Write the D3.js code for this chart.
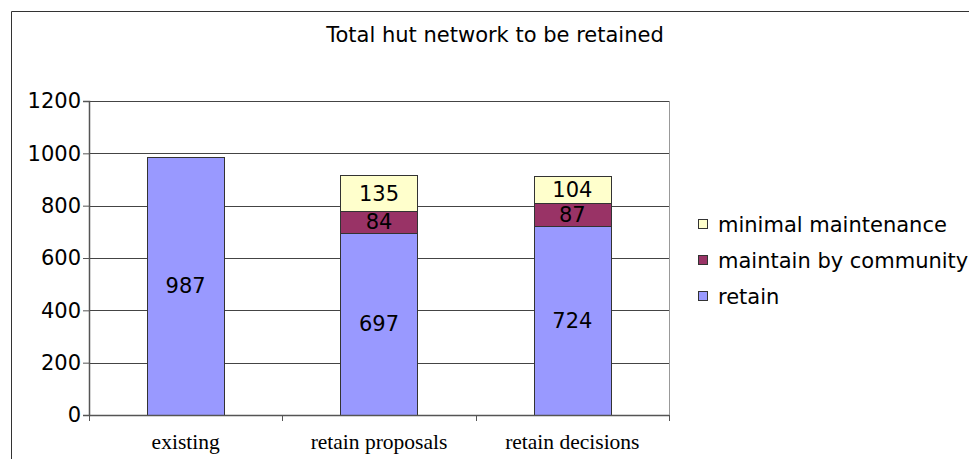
<!DOCTYPE html>
<html>
<head>
<meta charset="utf-8">
<script src="https://cdn.jsdelivr.net/npm/d3@7"></script>
<style>
  body { margin: 0; background: #fff; }
  svg { display: block; }
</style>
</head>
<body>
<svg id="chart"></svg>
<script>
/* Data */
const categories = ["existing", "retain proposals", "retain decisions"];
const retainValues = [987, 697, 724];
const communityValues = [0, 84, 87];
const minimalValues = [0, 135, 104];
const yTicks = [0, 200, 400, 600, 800, 1000, 1200];

const seriesNames = ["retain", "maintain by community", "minimal maintenance"];
const seriesColors = ["#9999FF", "#993366", "#FFFFCC"];

/* Build rows for the stack */
const rows = categories.map((c, i) => ({
  category: c,
  "retain": retainValues[i],
  "maintain by community": communityValues[i],
  "minimal maintenance": minimalValues[i]
}));

const stacked = d3.stack().keys(seriesNames)(rows);

/* Dimensions */
const W = 969, H = 459;
const plot = { left: 89, right: 669, top: 101, bottom: 415 };
const sans = "'DejaVu Sans', Verdana, sans-serif";

const svg = d3.select("#chart").attr("width", W).attr("height", H);

/* Outer frame (runs off the right and bottom edges) */
svg.append("path")
    .attr("d", `M11.5,${H + 2} V11.5 H${W + 2}`)
    .attr("fill", "none")
    .attr("stroke", "#333")
    .attr("stroke-width", 1);

/* Title */
svg.append("text")
    .attr("x", 495)
    .attr("y", 42)
    .attr("text-anchor", "middle")
    .style("font-family", sans)
    .style("font-size", "21px")
    .text("Total hut network to be retained");

/* Scales */
const x = d3.scaleBand()
    .domain(categories)
    .range([plot.left, plot.right])
    .paddingInner(0.6)
    .paddingOuter(0.3);

const y = d3.scaleLinear()
    .domain([0, 1200])
    .range([plot.bottom, plot.top]);

/* Gridlines */
svg.append("g")
  .selectAll("line")
  .data(yTicks.filter(t => t > 0))
  .join("line")
    .attr("x1", plot.left)
    .attr("x2", plot.right)
    .attr("y1", d => Math.round(y(d)) + 0.5)
    .attr("y2", d => Math.round(y(d)) + 0.5)
    .attr("stroke", "#444")
    .attr("stroke-width", 1);

/* Right border of plot area */
svg.append("line")
    .attr("x1", plot.right + 0.5).attr("x2", plot.right + 0.5)
    .attr("y1", plot.top).attr("y2", plot.bottom)
    .attr("stroke", "#999");

/* Bars */
const layers = svg.append("g")
  .selectAll("g")
  .data(stacked)
  .join("g")
    .attr("fill", (d, i) => seriesColors[i]);

layers.selectAll("rect")
  .data(d => d.filter(s => s[1] - s[0] > 0))
  .join("rect")
    .attr("x", d => Math.round(x(d.data.category)) + 0.5)
    .attr("y", d => Math.round(y(d[1])) + 0.5)
    .attr("width", Math.round(x.bandwidth()))
    .attr("height", d => Math.round(y(d[0])) - Math.round(y(d[1])))
    .attr("stroke", "#333")
    .attr("stroke-width", 1);

/* Value labels */
layers.selectAll("text")
  .data(d => d.filter(s => s[1] - s[0] > 0))
  .join("text")
    .attr("x", d => x(d.data.category) + x.bandwidth() / 2)
    .attr("y", d => y((d[0] + d[1]) / 2))
    .attr("dy", "0.36em")
    .attr("text-anchor", "middle")
    .attr("fill", "#000")
    .style("font-family", sans)
    .style("font-size", "21px")
    .text(d => d[1] - d[0]);

/* Y axis */
const yAxis = svg.append("g")
    .attr("transform", `translate(${plot.left},0)`)
    .call(d3.axisLeft(y).tickValues(yTicks).tickFormat(d3.format("d")).tickSize(6).tickPadding(2));
yAxis.select(".domain").attr("stroke", "#555").attr("stroke-width", 1.5);
yAxis.selectAll(".tick line").attr("stroke", "#555");
yAxis.selectAll(".tick text")
    .style("font-family", sans)
    .style("font-size", "21px")
    .attr("fill", "#000");

/* X axis: ticks at category boundaries */
const boundaries = categories.map(c => x(c) - x.step() * x.paddingInner() / 2)
    .concat([plot.right]);
boundaries[0] = plot.left;

const xAxis = svg.append("g");
xAxis.append("line")
    .attr("x1", plot.left).attr("x2", plot.right)
    .attr("y1", plot.bottom + 0.5).attr("y2", plot.bottom + 0.5)
    .attr("stroke", "#555").attr("stroke-width", 1.5);
xAxis.selectAll(".xtick")
  .data(boundaries)
  .join("line")
    .attr("class", "xtick")
    .attr("x1", d => Math.round(d) + 0.5).attr("x2", d => Math.round(d) + 0.5)
    .attr("y1", plot.bottom).attr("y2", plot.bottom + 6)
    .attr("stroke", "#555");
xAxis.selectAll(".xlabel")
  .data(categories)
  .join("text")
    .attr("class", "xlabel")
    .attr("x", d => x(d) + x.bandwidth() / 2)
    .attr("y", 449)
    .attr("text-anchor", "middle")
    .style("font-family", "'Liberation Serif', 'Times New Roman', serif")
    .style("font-size", "21.5px")
    .text(d => d);

/* Legend (reverse order) */
const legendItems = seriesNames.map((n, i) => ({ name: n, color: seriesColors[i] })).reverse();
const legend = svg.append("g")
  .selectAll("g")
  .data(legendItems)
  .join("g")
    .attr("transform", (d, i) => `translate(698,${224 + i * 36})`);

legend.append("rect")
    .attr("x", 0.5)
    .attr("y", -4.5)
    .attr("width", 9)
    .attr("height", 9)
    .attr("fill", d => d.color)
    .attr("stroke", "#333");

legend.append("text")
    .attr("x", 20)
    .attr("y", 0)
    .attr("dy", "0.36em")
    .style("font-family", sans)
    .style("font-size", "21px")
    .text(d => d.name);
</script>
</body>
</html>
